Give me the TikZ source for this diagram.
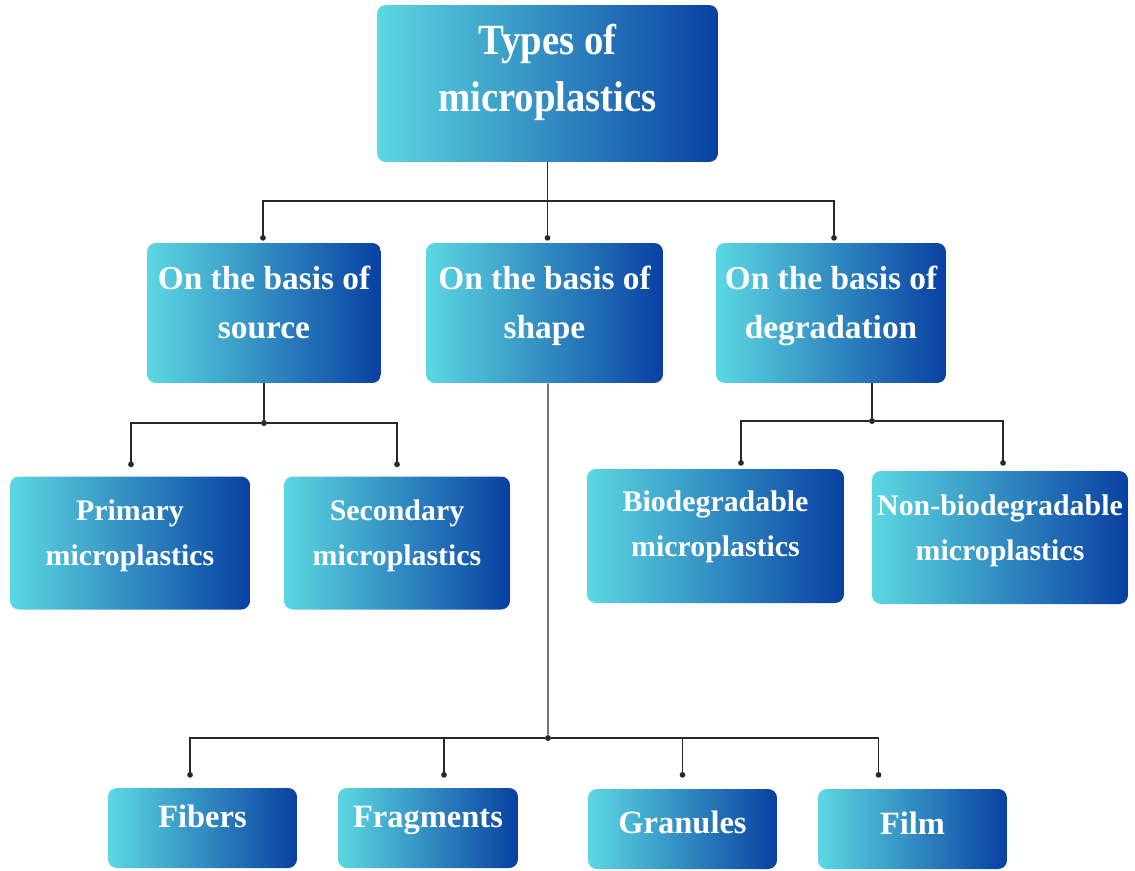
\documentclass[tikz,border=0pt]{standalone}
\usepackage{fontspec}
\setmainfont{Liberation Serif}
\newfontfamily\rootfont[FakeStretch=0.9]{Liberation Serif}
\usepackage{xcolor}
\usepackage{tikz}
\usetikzlibrary{arrows.meta,positioning}
\definecolor{mpcyan}{RGB}{92,216,226}
\definecolor{mpblue}{RGB}{8,64,162}
\definecolor{mpline}{RGB}{40,40,40}
\tikzset{
	mpbox/.style = {
			rectangle,
			rounded corners = 5pt,
			left color      = mpcyan,
			right color     = mpblue,
			draw            = none,
			inner sep       = 0pt,
		},
	mptext/.style = {
			anchor = north, inner sep = 0pt,
			text = white, align = center,
		},
	toptext/.style = {mptext, font=\rootfont\fontsize{24.5}{32.4}\selectfont\bfseries},
	midtext/.style = {mptext, font=\fontsize{19}{28}\selectfont\bfseries},
	lowtext/.style = {mptext, font=\fontsize{17}{25.5}\selectfont\bfseries},
	endtext/.style = {mptext, font=\fontsize{18.5}{24}\selectfont\bfseries},
	link/.style = {draw=mpline, line width=0.8pt},
	linkdot/.style = {link, -{Circle[length=3.2pt]}},
	vertex/.style = {
			circle,
			fill       = mpline,
			inner sep  = 0pt,
			minimum size = 3.4pt,
		}
}

\begin{document}
\begin{tikzpicture}[x=0.02cm, y=-0.02cm]
		\useasboundingbox (0,0) rectangle (1135,870);

		\node[mpbox, minimum width=6.82cm, minimum height=3.14cm] at (547.5,83.5) (root) {};

		\node[mpbox, minimum width=4.68cm, minimum height=2.8cm] at (264,313) (src) {};
		\node[mpbox, minimum width=4.74cm, minimum height=2.8cm] at (544.5,313) (shp) {};
		\node[mpbox, minimum width=4.6cm, minimum height=2.8cm] at (831,313) (deg) {};

		\node[mpbox, minimum width=4.8cm, minimum height=2.66cm] at (130,543) (pri) {};
		\node[mpbox, minimum width=4.52cm, minimum height=2.66cm] at (397,543) (sec) {};
		\node[mpbox, minimum width=5.14cm, minimum height=2.68cm] at (715.5,536) (bio) {};
		\node[mpbox, minimum width=5.12cm, minimum height=2.66cm] at (1000,537.5) (nbio) {};

		\node[mpbox, minimum width=3.78cm, minimum height=1.6cm] at (202.5,828) (fib) {};
		\node[mpbox, minimum width=3.6cm, minimum height=1.6cm] at (428,828) (frag) {};
		\node[mpbox, minimum width=3.78cm, minimum height=1.6cm] at (682.5,829) (gran) {};
		\node[mpbox, minimum width=3.78cm, minimum height=1.6cm] at (912.5,829) (film) {};

		\node[toptext] at ([shift={(0,19)}]root.north) (roottxt) {Types of\\microplastics};
		\node[midtext] at ([shift={(0,23)}]src.north) (srctxt) {On the basis of\\source};
		\node[midtext] at ([shift={(0,23)}]shp.north) (shptxt) {On the basis of\\shape};
		\node[midtext] at ([shift={(0,23)}]deg.north) (degtxt) {On the basis of\\degradation};
		\node[lowtext] at ([shift={(0,23)}]pri.north) (pritxt) {Primary\\microplastics};
		\node[lowtext] at ([shift={(0,23)}]sec.north) (sectxt) {Secondary\\microplastics};
		\node[lowtext] at ([shift={(0,22)}]bio.north) (biotxt) {Biodegradable\\microplastics};
		\node[lowtext] at ([shift={(0,24)}]nbio.north) (nbiotxt) {Non-biodegradable\\microplastics};
		\node[endtext] at ([shift={(0,17)}]fib.north) (fibtxt) {Fibers};
		\node[endtext] at ([shift={(0,18)}]frag.north) (fragtxt) {Fragments};
		\node[endtext] at ([shift={(0,22)}]gran.north) (grantxt) {Granules};
		\node[endtext] at ([shift={(0,23)}]film.north) (filmtxt) {Film};

		\coordinate (topj) at (547.5,201);
		\node[vertex] at (264,423) (srcj) {};
		\node[vertex] at (872,421) (degj) {};
		\node[vertex] at (548,738) (shpj) {};

		\draw[link] (root.south) -- (topj);
		\draw[linkdot] (topj) -| ([shift={(-1,-2)}]src.north);
		\draw[linkdot] (topj) -- ([shift={(3,-2)}]shp.north);
		\draw[linkdot] (topj) -| ([shift={(3,-2)}]deg.north);

		\draw[link] (src.south) -- (srcj);
		\draw[linkdot] (srcj) -| ([shift={(1,-9)}]pri.north);
		\draw[linkdot] (srcj) -| ([shift={(0,-9)}]sec.north);

		\draw[link] ([shift={(41,0)}]deg.south) -- (degj);
		\draw[linkdot] (degj) -| ([shift={(25.5,-3)}]bio.north);
		\draw[linkdot] (degj) -| ([shift={(3,-5)}]nbio.north);

		\draw[link] ([shift={(3.5,0)}]shp.south) -- (shpj);
		\draw[linkdot] (shpj) -| ([shift={(-12.5,-10)}]fib.north);
		\draw[linkdot] (shpj) -| ([shift={(16,-10)}]frag.north);
		\draw[linkdot] (shpj) -| ([shift={(0,-11)}]gran.north);
		\draw[linkdot] (shpj) -| ([shift={(-34,-11)}]film.north);
	\end{tikzpicture}
\end{document}
